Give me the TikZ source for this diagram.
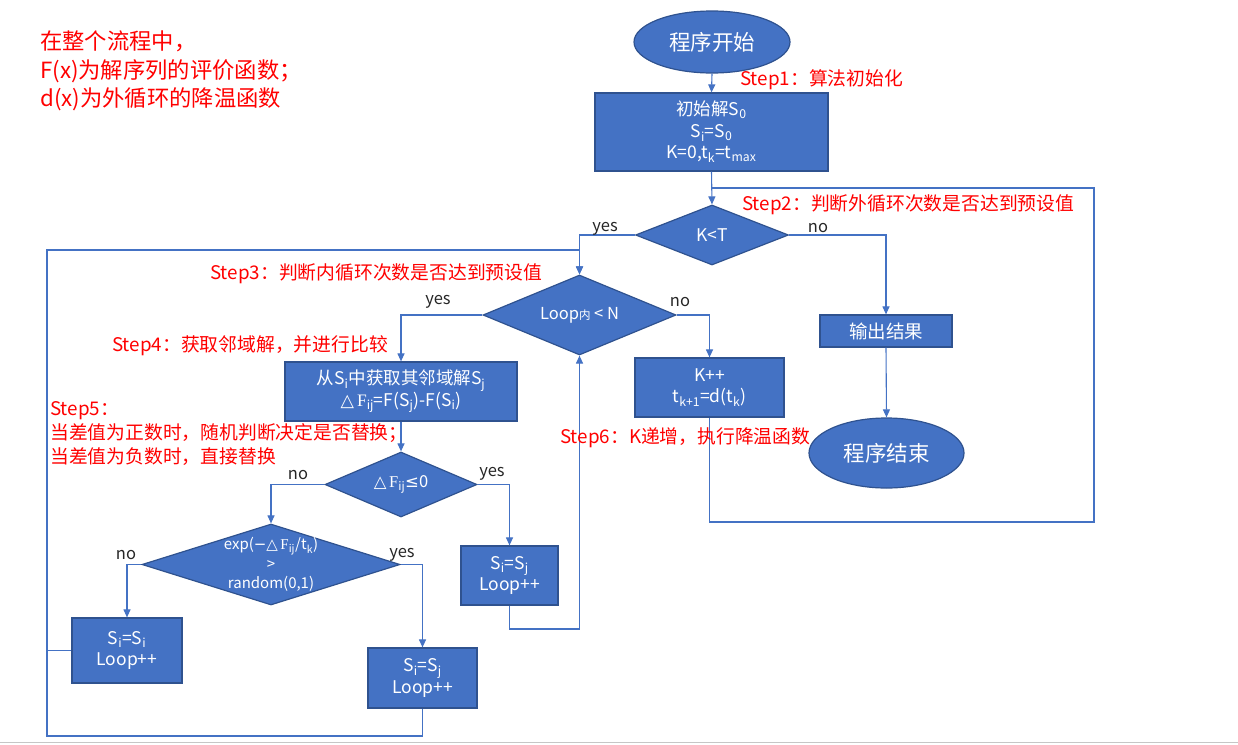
\documentclass[tikz,border=0pt]{standalone}
\usepackage{fontspec}
\setmainfont{Noto Sans CJK SC}
\newfontfamily\dejavu{DejaVu Sans}
\newfontfamily\serifF{Liberation Serif}
\usetikzlibrary{shapes.geometric,arrows.meta}
\definecolor{bfill}{HTML}{4472C4}
\definecolor{bdraw}{HTML}{2F528F}
\definecolor{lcol}{HTML}{4472C4}
\newcommand\sbs[1]{\textsubscript{#1}}
\newcommand\dF{{\dejavu △}\,{\serifF F}\sbs{ij}}
\begin{document}
\begin{tikzpicture}[x=1pt,y=-1pt,
  box/.style={draw=bdraw, fill=bfill, line width=1.2pt, text=white, inner sep=0pt, align=center, font=\fontsize{17.5}{21.5}\selectfont},
  ell/.style={ellipse, draw=bdraw, fill=bfill, line width=1.2pt, text=white, inner sep=0pt, font=\fontsize{21.5}{24}\selectfont},
  dia/.style={diamond, draw=bdraw, fill=bfill, line width=1.2pt, inner sep=0pt},
  dtxt/.style={text=white, align=center, inner sep=0pt, font=\fontsize{16.5}{19}\selectfont},
  conn/.style={draw=lcol, line width=1.1pt},
  arr/.style={conn, -{Triangle[length=8pt,width=7pt]}},
  steplbl/.style={text=red, anchor=west, inner sep=0pt, font=\fontsize{18.8}{23}\selectfont},
  yn/.style={inner sep=0pt, text=black!85, font=\fontsize{16.5}{18}\selectfont}
]
\useasboundingbox (0,0) rectangle (1238,744);
\draw[gray!45, line width=1.5pt] (0,742.5) -- (1238,742.5);

% annotation
\node[text=red, anchor=north west, align=left, inner sep=0pt, font=\fontsize{22.3}{28.5}\selectfont] (note) at (40,31) {在整个流程中，\\F(x)为解序列的评价函数；\\d(x)为外循环的降温函数};

% nodes
\node[ell, minimum width=156, minimum height=62] (start) at (712,42) {程序开始};
\node[box, minimum width=233, minimum height=78] (init) at (711.5,132) {初始解S\sbs{0}\\S\sbs{i}=S\sbs{0}\\K=0,t\sbs{k}=t\sbs{max}};
\node[dia, minimum width=153, minimum height=60] (d1) at (712,235) {};
\node[dtxt, font=\fontsize{17.5}{19}\selectfont] (d1t) at (d1) {K<T};
\node[dia, minimum width=193, minimum height=80] (d2) at (579.5,315) {};
\node[dtxt] (d2t) at (d2) {Loop{\fontsize{11.5}{12}\selectfont 内} < N};
\node[box, minimum width=232, minimum height=59] (nb) at (401,391.5) {从S\sbs{i}中获取其邻域解S\sbs{j}\\\dF=F(S\sbs{j})-F(S\sbs{i})};
\node[box, minimum width=149, minimum height=59] (kpp) at (709.5,387.5) {K++\\t\sbs{k+1}=d(t\sbs{k})};
\node[box, minimum width=132, minimum height=32, font=\fontsize{18.5}{21}\selectfont] (out) at (886,331) {输出结果};
\node[ell, minimum width=155, minimum height=70] (end) at (886.5,453) {程序结束};
\node[dia, minimum width=152, minimum height=65] (d3) at (401,484.5) {};
\node[dtxt] (d3t) at (d3) {\dF{\dejavu ≤}0};
\node[dia, minimum width=258, minimum height=81] (d4) at (271,564.5) {};
\node[dtxt, font=\fontsize{15}{19.5}\selectfont] (d4t) at (d4) {exp({\dejavu −}\dF/t\sbs{k})\\>\\random(0,1)};
\node[box, minimum width=97, minimum height=59] (ssj1) at (509.5,575.5) {S\sbs{i}=S\sbs{j}\\Loop++};
\node[box, minimum width=110, minimum height=65] (ssi) at (127,650.5) {S\sbs{i}=S\sbs{i}\\Loop++};
\node[box, minimum width=109, minimum height=60] (ssj2) at (422.5,678) {S\sbs{i}=S\sbs{j}\\Loop++};

% helper coordinates
\coordinate (c1) at (1094,522);
\coordinate (c2) at (1094,188);
\coordinate (c3) at (579,629);
\coordinate (c4) at (47,736);
\coordinate (c5) at (47,250);

% connectors
\draw[arr] (start.south) -- (init.north);
\draw[arr] (init.south) -- (d1.north);
\draw[conn] (kpp.south) -- (kpp.south |- c1) -- (c1) -- (c2) -- (init.south |- c2);
\draw[arr] (d1.west) -| (d2.north);
\draw[arr] (d1.east) -| (out.north);
\draw[arr] (out.south) -- (end.north);
\draw[arr] (d2.west) -| (nb.north);
\draw[arr] (d2.east) -| (kpp.north);
\draw[arr] (nb.south) -- (d3.north);
\draw[arr] (d3.west) -| (d4.north);
\draw[arr] (d3.east) -| (ssj1.north);
\draw[arr] (ssj1.south) |- (d2.south |- c3) -- (d2.south);
\draw[arr] (d4.west) -| (ssi.north);
\draw[arr] (d4.east) -| (ssj2.north);
\draw[arr] (ssj2.south) |- (c4) -- (c5) -| (d2.north);
\draw[conn] (ssi.west) -- (ssi.west -| c4);

% yes/no labels
\node[yn] (y1) at (605,229) {yes};
\node[yn] (n1) at (818,228) {no};
\node[yn] (y2) at (438,302) {yes};
\node[yn] (n2) at (680,302) {no};
\node[yn] (n3) at (298,475) {no};
\node[yn] (y3) at (492,474) {yes};
\node[yn] (n4) at (126,555) {no};
\node[yn] (y4) at (402,555) {yes};

% step labels
\node[steplbl] (s1) at (740,80) {Step1：算法初始化};
\node[steplbl] (s2) at (742,205) {Step2：判断外循环次数是否达到预设值};
\node[steplbl] (s3) at (210,274) {Step3：判断内循环次数是否达到预设值};
\node[steplbl] (s4) at (112,346) {Step4：获取邻域解，并进行比较};
\node[steplbl, anchor=north west, align=left, font=\fontsize{18.8}{24}\selectfont] (s5) at (50,401) {Step5：\\当差值为正数时，随机判断决定是否替换；\\当差值为负数时，直接替换};
\node[steplbl] (s6) at (560,438) {Step6：K递增，执行降温函数};
\end{tikzpicture}
\end{document}
